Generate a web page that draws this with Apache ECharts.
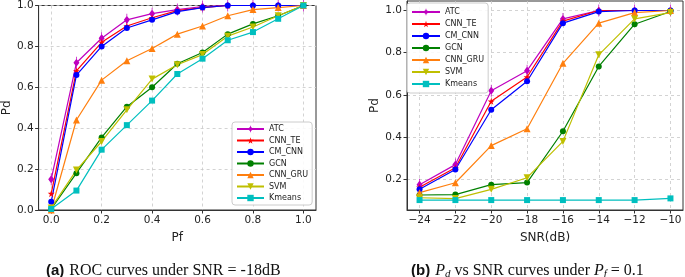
<!DOCTYPE html>
<html>
<head>
<meta charset="utf-8">
<script src="https://cdn.jsdelivr.net/npm/echarts@6/dist/echarts.min.js"></script>
<style>
html, body { margin: 0; padding: 0; background: #fff; }
#chart { width: 685px; height: 277px; }
</style>
</head>
<body>
<div id="chart"></div>
<script>
// (a) ROC curves, SNR = -18dB
var pfValues   = [0, 0.1, 0.2, 0.3, 0.4, 0.5, 0.6, 0.7, 0.8, 0.9, 1.0]
var atcRoc     = [0.15, 0.72, 0.84, 0.93, 0.96, 0.98, 0.995, 1.0, 1.0, 1.0, 1.0]
var cnnTeRoc   = [0.08, 0.68, 0.82, 0.90, 0.94, 0.975, 0.99, 1.0, 1.0, 1.0, 1.0]
var cmCnnRoc   = [0.04, 0.66, 0.80, 0.89, 0.93, 0.97, 0.99, 1.0, 1.0, 1.0, 1.0]
var gcnRoc     = [0.005, 0.18, 0.355, 0.505, 0.60, 0.715, 0.77, 0.86, 0.91, 0.95, 1.0]
var cnnGruRoc  = [0.0, 0.44, 0.635, 0.73, 0.79, 0.86, 0.90, 0.95, 0.98, 0.99, 1.0]
var svmRoc     = [0.01, 0.195, 0.335, 0.49, 0.64, 0.71, 0.76, 0.85, 0.895, 0.95, 1.0]
var kmeansRoc  = [0.005, 0.095, 0.295, 0.415, 0.535, 0.665, 0.74, 0.83, 0.87, 0.935, 1.0]

// (b) Pd vs SNR, Pf = 0.1
var snrValues  = [-24, -22, -20, -18, -16, -14, -12, -10]
var atcSnr     = [0.175, 0.27, 0.62, 0.715, 0.96, 1.0, 1.0, 1.0]
var cnnTeSnr   = [0.163, 0.255, 0.57, 0.685, 0.95, 1.0, 1.0, 1.0]
var cmCnnSnr   = [0.153, 0.247, 0.53, 0.665, 0.94, 0.995, 1.0, 1.0]
var gcnSnr     = [0.126, 0.128, 0.175, 0.185, 0.428, 0.735, 0.935, 0.995]
var cnnGruSnr  = [0.137, 0.184, 0.36, 0.44, 0.75, 0.94, 0.99, 1.0]
var svmSnr     = [0.113, 0.109, 0.153, 0.208, 0.38, 0.79, 0.96, 0.99]
var kmeansSnr  = [0.102, 0.102, 0.102, 0.102, 0.102, 0.102, 0.102, 0.11]

var pfTicks    = [0, 0.2, 0.4, 0.6, 0.8, 1.0]
var pdTicksA   = [0, 0.2, 0.4, 0.6, 0.8, 1.0]
var snrTicks   = [-24, -22, -20, -18, -16, -14, -12, -10]
var pdTicksB   = [0.2, 0.4, 0.6, 0.8, 1.0]

var methods = ['ATC', 'CNN_TE', 'CM_CNN', 'GCN', 'CNN_GRU', 'SVM', 'Kmeans']
var rocData = [atcRoc, cnnTeRoc, cmCnnRoc, gcnRoc, cnnGruRoc, svmRoc, kmeansRoc]
var snrData = [atcSnr, cnnTeSnr, cmCnnSnr, gcnSnr, cnnGruSnr, svmSnr, kmeansSnr]

var STAR = 'path://M50,0 L61,35 L98,35 L68,57 L79,91 L50,70 L21,91 L32,57 L2,35 L39,35 Z'
var DIAMOND_BAR = 'path://M4.4,0 H5.6 V4 L10,10 L5.6,16 V20 H4.4 V16 L0,10 L4.4,4 Z'

// matplotlib-ish look per method
var look = {
  ATC:     { color: '#bf00bf', symbol: DIAMOND_BAR, size: [6, 12] },
  CNN_TE:  { color: '#ff0000', symbol: STAR, size: 7 },
  CM_CNN:  { color: '#0000ff', symbol: 'circle', size: 6 },
  GCN:     { color: '#008000', symbol: 'circle', size: 6 },
  CNN_GRU: { color: '#ff7f0e', symbol: 'triangle', size: 7 },
  SVM:     { color: '#bfbf00', symbol: 'triangle', size: 7, rotate: 180 },
  Kmeans:  { color: '#00bfbf', symbol: 'rect', size: 6 }
}

var FONT = 'DejaVu Sans'
var fmt1 = function (v) { return v.toFixed(1) }
var fmtSnr = function (v) { return (v < 0 ? '\u2212' : '') + Math.abs(v) }

function pairs(xs, ys) {
  return xs.map(function (x, i) { return [x, ys[i]] })
}

function makeSeries(data, xs, idx) {
  return methods.map(function (name, i) {
    var s = look[name]
    return {
      name: name, type: 'line',
      xAxisIndex: idx, yAxisIndex: idx,
      data: pairs(xs, data[i]),
      symbol: s.symbol, symbolSize: s.size, symbolRotate: s.rotate || 0,
      showSymbol: true, clip: false,
      lineStyle: { color: s.color, width: 1.2 },
      itemStyle: { color: s.color },
      emphasis: { disabled: true }
    }
  })
}

function axisCommon() {
  return {
    axisLine: { show: true, onZero: false, lineStyle: { color: '#333', width: 1 } },
    axisTick: { show: true, length: 3.5, lineStyle: { color: '#333' } },
    axisLabel: { color: '#222', fontFamily: FONT, fontSize: 10.5, margin: 5 },
    splitLine: { show: true, lineStyle: { color: '#c8c8c8', type: [3, 3], width: 0.8 } },
    nameTextStyle: { color: '#222', fontFamily: FONT, fontSize: 12 },
    nameLocation: 'middle'
  }
}

function axis(extra) {
  var a = axisCommon()
  for (var k in extra) {
    if (typeof extra[k] === 'object' && a[k] && !Array.isArray(extra[k])) a[k] = Object.assign({}, a[k], extra[k])
    else a[k] = extra[k]
  }
  return a
}

function legendAt(left, top, gap, pad, iw) {
  return {
    data: methods, orient: 'vertical', left: left, top: top,
    itemWidth: iw, itemHeight: 8, itemGap: gap, padding: pad,
    backgroundColor: 'rgba(255,255,255,0.85)', borderColor: '#cccccc', borderWidth: 1, borderRadius: 3,
    textStyle: { fontFamily: FONT, fontSize: 8, color: '#222', lineHeight: 8 },
    selectedMode: false
  }
}

var serif = { fontFamily: 'Liberation Serif', fontWeight: 'normal', fontSize: 16, color: '#111' }
var boldTag = { fontFamily: 'Liberation Sans', fontWeight: 'bold', fontSize: 15, color: '#111' }

var chart = echarts.init(document.getElementById('chart'), null, { renderer: 'canvas' })

chart.setOption({
  backgroundColor: '#fff',
  animation: false,
  title: [
    {
      text: '{b|(a)} {s|ROC curves under SNR = -18dB}',
      left: 41, top: 257,
      textStyle: { fontWeight: 'normal', rich: { b: boldTag, s: serif } }
    },
    {
      text: '{b|(b)} {i|P}{sub|d}{s| vs SNR curves under }{i|P}{sub|f}{s| = 0.1}',
      left: 406, top: 257,
      textStyle: { fontWeight: 'normal', rich: {
        b: boldTag,
        s: serif,
        i: Object.assign({}, serif, { fontStyle: 'italic' }),
        sub: Object.assign({}, serif, { fontStyle: 'italic', fontSize: 11, padding: [7, 0, 0, 0] })
      } }
    }
  ],
  grid: [
    { left: 37, top: 5, width: 279, height: 205, show: true, borderColor: '#333', borderWidth: 1, backgroundColor: 'transparent' },
    { left: 407, top: 1, width: 276, height: 209, show: true, borderColor: '#333', borderWidth: 1, backgroundColor: 'transparent' }
  ],
  xAxis: [
    axis({ type: 'value', gridIndex: 0, min: -0.05, max: 1.05, name: 'Pf', nameGap: 22,
      axisTick: { customValues: pfTicks }, axisLabel: { customValues: pfTicks, formatter: fmt1 } }),
    axis({ type: 'value', gridIndex: 1, min: -24.7, max: -9.3, name: 'SNR(dB)', nameGap: 22,
      axisTick: { customValues: snrTicks }, axisLabel: { customValues: snrTicks, formatter: fmtSnr } })
  ],
  yAxis: [
    axis({ type: 'value', gridIndex: 0, min: 0, max: 1, interval: 0.2, name: 'Pd', nameGap: 24,
      axisTick: { customValues: pdTicksA }, axisLabel: { customValues: pdTicksA, formatter: fmt1 } }),
    axis({ type: 'value', gridIndex: 1, min: 0.055, max: 1.045, name: 'Pd', nameGap: 26,
      axisTick: { customValues: pdTicksB }, axisLabel: { customValues: pdTicksB, formatter: fmt1 } })
  ],
  legend: [
    legendAt(232, 122, 3.5, [3, 4, 3, 4], 27),
    legendAt(407, 3, 4, [5, 4, 5, 4], 28)
  ],
  series: makeSeries(rocData, pfValues, 0).concat(makeSeries(snrData, snrValues, 1))
})
</script>
</body>
</html>
